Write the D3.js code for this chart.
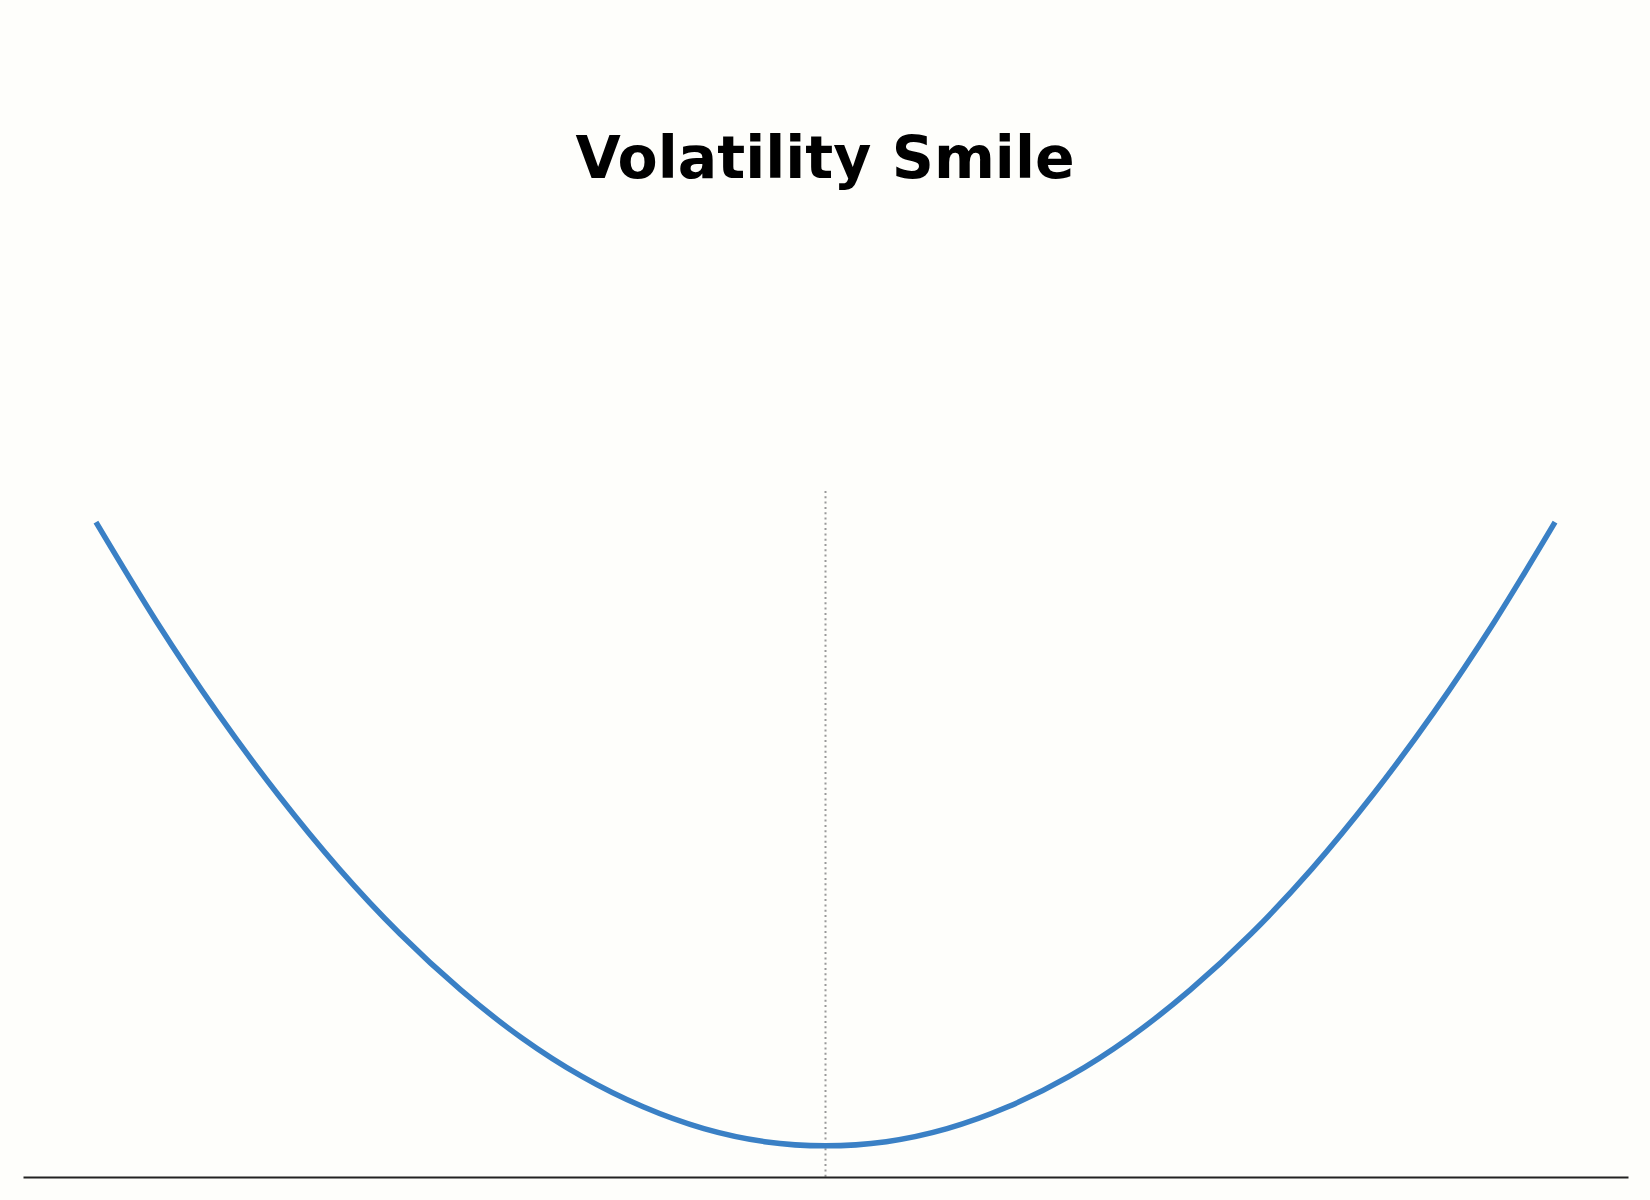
<!DOCTYPE html>
<html>
<head>
<meta charset="utf-8">
<script src="https://cdn.jsdelivr.net/npm/d3@7"></script>
<style>
  html, body { margin: 0; padding: 0; background: #fefefb; }
  svg { display: block; }
</style>
</head>
<body>
<div id="chart"></div>
<script>
const strikes = [70, 72.5, 75, 77.5, 80, 82.5, 85, 87.5, 90, 92.5, 95, 97.5, 100,
                 102.5, 105, 107.5, 110, 112.5, 115, 117.5, 120, 122.5, 125, 127.5, 130];
const impliedVol = [30.0, 28.08, 26.33, 24.75, 23.33, 22.08, 21.0, 20.08, 19.33, 18.75, 18.33, 18.08, 18.0,
                    18.08, 18.33, 18.75, 19.33, 20.08, 21.0, 22.08, 23.33, 24.75, 26.33, 28.08, 30.0];
const atmStrike = 100;
const titleText = "Volatility Smile";

const width = 1650, height = 1200;
const margin = {top: 491, right: 22, bottom: 23, left: 23};

const svg = d3.select("#chart")
    .append("svg")
    .attr("width", width)
    .attr("height", height)
    .style("font-family", "'DejaVu Sans', sans-serif");

svg.append("rect")
    .attr("width", width)
    .attr("height", height)
    .attr("fill", "#fefefb");

const data = strikes.map((k, i) => ({k: k, v: impliedVol[i]}));

const xExt = d3.extent(strikes);
const xPad = (xExt[1] - xExt[0]) * 0.05;
const x = d3.scaleLinear()
    .domain([xExt[0] - xPad, xExt[1] + xPad])
    .range([margin.left, width - margin.right]);

const yExt = d3.extent(impliedVol);
const yPad = (yExt[1] - yExt[0]) * 0.05;
const y = d3.scaleLinear()
    .domain([yExt[0] - yPad, yExt[1] + yPad])
    .range([height - margin.bottom, margin.top]);

// ATM marker
svg.append("line")
    .attr("x1", x(atmStrike))
    .attr("x2", x(atmStrike))
    .attr("y1", y.range()[1])
    .attr("y2", y.range()[0])
    .attr("stroke", "#999")
    .attr("stroke-width", 2)
    .attr("stroke-dasharray", "2,3.3");

const line = d3.line()
    .x(d => x(d.k))
    .y(d => y(d.v))
    .curve(d3.curveMonotoneX);

svg.append("path")
    .datum(data)
    .attr("d", line)
    .attr("fill", "none")
    .attr("stroke", "#3a80c5")
    .attr("stroke-width", 5.5);

// baseline axis
const xAxis = svg.append("g")
    .attr("transform", `translate(0,${height - margin.bottom})`)
    .call(d3.axisBottom(x).tickValues([]).tickSizeOuter(0));
xAxis.select(".domain")
    .attr("stroke", "#222")
    .attr("stroke-width", 2);

svg.append("text")
    .attr("x", width / 2)
    .attr("y", 178)
    .attr("text-anchor", "middle")
    .attr("font-size", 58.5)
    .attr("font-weight", "bold")
    .attr("fill", "#000")
    .text(titleText);
</script>
</body>
</html>
